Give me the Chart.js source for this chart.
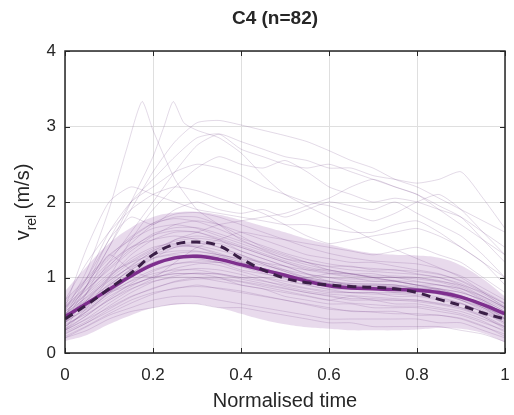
<!DOCTYPE html>
<html lang="en">
<head>
<meta charset="UTF-8">
<title>C4 (n=82)</title>
<script src="https://cdn.jsdelivr.net/npm/chart.js"></script>
<style>
  html, body { margin: 0; padding: 0; background: #fff; }
  #wrap { width: 514px; height: 415px; }
</style>
</head>
<body>
<div id="wrap"><canvas id="chart" width="514" height="415"></canvas></div>
<script>
// normalised time grid shared by the mean / median / band / most traces
const timeGrid = [0, 0.05, 0.1, 0.15, 0.2, 0.25, 0.3, 0.35, 0.4, 0.45, 0.5,
                  0.55, 0.6, 0.65, 0.7, 0.75, 0.8, 0.85, 0.9, 0.95, 1];

// group mean (solid) and median (dashed), m/s
const meanSpeed   = [0.48, 0.66, 0.84, 1.02, 1.17, 1.26, 1.28, 1.24, 1.17, 1.10, 1.03,
                     0.95, 0.89, 0.86, 0.85, 0.84, 0.83, 0.80, 0.74, 0.64, 0.52];
const medianSpeed = [0.45, 0.64, 0.85, 1.06, 1.30, 1.44, 1.47, 1.42, 1.25, 1.10, 0.99,
                     0.93, 0.90, 0.88, 0.87, 0.85, 0.80, 0.71, 0.63, 0.53, 0.45];

// shaded band (mean +/- SD)
const bandUpper = [0.82, 1.15, 1.45, 1.66, 1.80, 1.86, 1.87, 1.83, 1.76, 1.68, 1.60,
                   1.51, 1.44, 1.37, 1.32, 1.30, 1.29, 1.26, 1.16, 0.98, 0.75];
const bandLower = [0.16, 0.24, 0.38, 0.50, 0.60, 0.64, 0.65, 0.60, 0.52, 0.44, 0.38,
                   0.34, 0.32, 0.30, 0.30, 0.30, 0.31, 0.33, 0.32, 0.26, 0.14];

// tick labels on the axes
const xTickLabels = ['0', '0.2', '0.4', '0.6', '0.8', '1'];
const yTickLabels = ['0', '1', '2', '3', '4'];

// individual trials (a readable subset), sampled on timeGrid
const traces = [
  [0.50, 0.90, 1.40, 1.90, 2.40, 2.80, 3.05, 3.08, 3.02, 2.95, 2.88, 2.80, 2.68, 2.55, 2.45, 2.30, 2.20, 2.05, 1.90, 1.75, 1.60],
  [0.40, 0.80, 1.20, 1.60, 2.00, 2.40, 2.75, 2.90, 2.80, 2.70, 2.60, 2.55, 2.45, 2.45, 2.35, 2.30, 2.25, 2.30, 2.40, 2.05, 1.65],
  [0.60, 1.00, 1.50, 2.00, 2.30, 2.60, 2.85, 2.90, 2.70, 2.60, 2.50, 2.45, 2.50, 2.40, 2.30, 2.20, 2.10, 1.90, 1.70, 1.50, 1.30],
  [0.30, 0.60, 1.00, 1.50, 1.90, 2.20, 2.45, 2.60, 2.50, 2.45, 2.55, 2.40, 2.20, 2.10, 2.00, 2.05, 2.00, 1.90, 1.80, 1.60, 1.40],
  [0.60, 1.40, 2.00, 2.20, 2.10, 2.00, 1.90, 1.85, 1.80, 1.75, 1.70, 1.70, 1.65, 1.60, 1.60, 1.70, 1.75, 1.60, 1.40, 1.20, 1.00],
  [0.40, 0.90, 1.50, 1.80, 1.70, 1.90, 2.00, 1.90, 1.85, 1.90, 1.80, 1.90, 2.00, 1.95, 1.90, 2.00, 1.85, 1.70, 1.55, 1.30, 1.00],
  [0.50, 0.70, 0.90, 1.10, 1.30, 1.50, 1.60, 1.70, 1.75, 1.80, 1.85, 1.95, 2.05, 2.20, 2.30, 2.20, 2.10, 1.95, 1.80, 1.50, 1.20],
  [0.70, 1.20, 1.60, 1.90, 2.10, 2.20, 2.15, 2.05, 1.95, 1.85, 1.70, 1.55, 1.45, 1.50, 1.55, 1.60, 1.65, 1.55, 1.40, 1.20, 0.90],
  [0.30, 0.80, 1.30, 1.10, 1.00, 1.20, 1.40, 1.50, 1.60, 1.55, 1.50, 1.45, 1.40, 1.35, 1.30, 1.35, 1.40, 1.30, 1.20, 1.00, 0.80],
  [0.50, 1.00, 1.60, 2.00, 2.20, 2.40, 2.50, 2.45, 2.35, 2.20, 2.10, 2.00, 1.95, 1.85, 1.75, 1.85, 2.00, 2.10, 1.90, 1.60, 1.30],
  [0.45, 0.70, 0.95, 1.15, 1.35, 1.50, 1.55, 1.50, 1.40, 1.30, 1.20, 1.10, 1.05, 1.00, 0.95, 0.95, 0.90, 0.85, 0.80, 0.70, 0.55],
  [0.30, 0.45, 0.60, 0.75, 0.85, 0.95, 1.00, 1.00, 0.95, 0.90, 0.85, 0.80, 0.75, 0.70, 0.70, 0.65, 0.65, 0.60, 0.55, 0.45, 0.35],
  [0.60, 0.85, 1.10, 1.35, 1.55, 1.70, 1.75, 1.70, 1.60, 1.50, 1.40, 1.30, 1.25, 1.20, 1.20, 1.15, 1.10, 1.05, 0.95, 0.80, 0.65],
  [0.20, 0.35, 0.50, 0.60, 0.70, 0.75, 0.75, 0.70, 0.65, 0.60, 0.55, 0.50, 0.45, 0.45, 0.45, 0.45, 0.45, 0.40, 0.40, 0.30, 0.20],
  [0.50, 0.75, 1.00, 1.25, 1.40, 1.45, 1.40, 1.30, 1.20, 1.10, 1.00, 0.95, 0.90, 0.85, 0.85, 0.80, 0.80, 0.80, 0.75, 0.65, 0.50],
  [0.40, 0.60, 0.80, 0.95, 1.05, 1.10, 1.10, 1.05, 1.00, 0.95, 0.90, 0.85, 0.80, 0.80, 0.80, 0.75, 0.75, 0.70, 0.65, 0.55, 0.45],
  [0.70, 1.00, 1.30, 1.50, 1.65, 1.70, 1.65, 1.55, 1.45, 1.35, 1.25, 1.20, 1.15, 1.15, 1.10, 1.10, 1.05, 1.00, 0.90, 0.75, 0.60],
  [0.25, 0.40, 0.55, 0.70, 0.80, 0.85, 0.90, 0.85, 0.80, 0.75, 0.70, 0.65, 0.60, 0.55, 0.55, 0.55, 0.50, 0.50, 0.45, 0.35, 0.25],
  [0.55, 0.80, 1.05, 1.20, 1.30, 1.35, 1.35, 1.30, 1.25, 1.20, 1.10, 1.00, 0.95, 0.90, 0.90, 0.90, 0.85, 0.85, 0.80, 0.70, 0.55],
  [0.35, 0.55, 0.75, 0.90, 1.00, 1.05, 1.05, 1.00, 0.90, 0.85, 0.75, 0.70, 0.65, 0.65, 0.60, 0.60, 0.60, 0.55, 0.50, 0.40, 0.30],
  [0.45, 0.65, 0.90, 1.10, 1.25, 1.30, 1.25, 1.20, 1.10, 1.05, 1.00, 1.00, 1.05, 1.05, 1.00, 0.95, 0.90, 0.85, 0.75, 0.60, 0.45],
  [0.50, 0.80, 1.15, 1.45, 1.70, 1.80, 1.80, 1.70, 1.55, 1.40, 1.30, 1.20, 1.10, 1.05, 1.00, 1.00, 0.95, 0.90, 0.85, 0.75, 0.60],
  [0.20, 0.30, 0.45, 0.55, 0.60, 0.65, 0.65, 0.60, 0.60, 0.55, 0.50, 0.45, 0.40, 0.40, 0.35, 0.35, 0.35, 0.35, 0.30, 0.25, 0.15],
  [0.60, 0.90, 1.20, 1.40, 1.50, 1.55, 1.50, 1.40, 1.30, 1.20, 1.15, 1.10, 1.10, 1.05, 1.05, 1.00, 1.00, 0.95, 0.90, 0.80, 0.65],
  [0.30, 0.50, 0.70, 0.85, 0.95, 1.00, 1.00, 0.95, 0.90, 0.85, 0.80, 0.75, 0.70, 0.75, 0.70, 0.70, 0.70, 0.65, 0.60, 0.50, 0.35],
  [0.40, 0.70, 1.00, 1.30, 1.50, 1.60, 1.60, 1.50, 1.35, 1.25, 1.15, 1.05, 1.00, 0.95, 0.95, 0.95, 0.90, 0.90, 0.85, 0.70, 0.50],
  [0.50, 0.65, 0.80, 0.90, 1.00, 1.05, 1.05, 1.05, 1.00, 1.00, 0.95, 0.90, 0.85, 0.85, 0.90, 0.90, 0.85, 0.80, 0.70, 0.60, 0.50],
  [0.35, 0.55, 0.80, 1.05, 1.25, 1.40, 1.45, 1.45, 1.35, 1.25, 1.15, 1.05, 0.95, 0.90, 0.85, 0.85, 0.85, 0.80, 0.75, 0.65, 0.45],
  [0.40, 0.62, 0.88, 1.12, 1.30, 1.40, 1.42, 1.36, 1.28, 1.18, 1.08, 1.00, 0.95, 0.92, 0.90, 0.88, 0.86, 0.82, 0.76, 0.64, 0.48],
  [0.28, 0.42, 0.62, 0.80, 0.94, 1.02, 1.06, 1.04, 0.98, 0.92, 0.86, 0.80, 0.76, 0.72, 0.72, 0.70, 0.68, 0.64, 0.58, 0.48, 0.32],
  [0.65, 0.95, 1.25, 1.52, 1.72, 1.84, 1.86, 1.80, 1.70, 1.60, 1.50, 1.40, 1.32, 1.26, 1.22, 1.20, 1.18, 1.12, 1.02, 0.86, 0.70],
  [0.38, 0.52, 0.70, 0.88, 1.02, 1.12, 1.18, 1.20, 1.18, 1.12, 1.05, 0.98, 0.92, 0.88, 0.86, 0.86, 0.84, 0.80, 0.72, 0.60, 0.42],
  [0.55, 0.78, 1.02, 1.22, 1.38, 1.48, 1.52, 1.48, 1.40, 1.30, 1.20, 1.12, 1.06, 1.02, 1.00, 1.00, 0.98, 0.94, 0.86, 0.72, 0.58],
  [0.22, 0.36, 0.52, 0.66, 0.78, 0.86, 0.88, 0.86, 0.82, 0.76, 0.70, 0.64, 0.58, 0.56, 0.54, 0.52, 0.52, 0.50, 0.46, 0.36, 0.22],
  [0.48, 0.72, 0.98, 1.20, 1.36, 1.44, 1.46, 1.40, 1.30, 1.18, 1.08, 0.98, 0.92, 0.88, 0.86, 0.84, 0.82, 0.78, 0.70, 0.58, 0.44],
  [0.32, 0.50, 0.72, 0.92, 1.08, 1.18, 1.22, 1.20, 1.14, 1.06, 0.98, 0.90, 0.84, 0.80, 0.78, 0.78, 0.76, 0.72, 0.66, 0.54, 0.38],
  [0.58, 0.84, 1.12, 1.38, 1.58, 1.66, 1.66, 1.58, 1.48, 1.38, 1.28, 1.20, 1.14, 1.10, 1.08, 1.06, 1.04, 1.00, 0.92, 0.78, 0.62],
  [0.42, 0.58, 0.78, 0.96, 1.10, 1.18, 1.20, 1.16, 1.08, 1.00, 0.92, 0.86, 0.82, 0.80, 0.80, 0.80, 0.78, 0.74, 0.66, 0.54, 0.40],
  [0.26, 0.40, 0.58, 0.74, 0.86, 0.94, 0.98, 0.98, 0.94, 0.88, 0.82, 0.76, 0.70, 0.66, 0.64, 0.62, 0.62, 0.58, 0.52, 0.42, 0.28],
  [0.62, 0.88, 1.16, 1.40, 1.56, 1.62, 1.60, 1.52, 1.42, 1.32, 1.22, 1.14, 1.08, 1.04, 1.02, 1.02, 1.00, 0.96, 0.88, 0.74, 0.60],
  [0.45, 0.66, 0.92, 1.16, 1.34, 1.42, 1.40, 1.32, 1.22, 1.12, 1.04, 0.98, 0.94, 0.92, 0.92, 0.90, 0.88, 0.84, 0.76, 0.62, 0.46],
  [0.36, 0.56, 0.80, 1.00, 1.16, 1.26, 1.30, 1.28, 1.20, 1.12, 1.04, 0.96, 0.90, 0.86, 0.84, 0.84, 0.82, 0.78, 0.70, 0.56, 0.40],
  [0.52, 0.74, 0.96, 1.14, 1.26, 1.32, 1.34, 1.30, 1.24, 1.16, 1.10, 1.04, 1.00, 0.98, 0.98, 0.96, 0.94, 0.90, 0.82, 0.68, 0.52],
  [0.30, 0.46, 0.66, 0.84, 0.98, 1.08, 1.12, 1.10, 1.04, 0.96, 0.88, 0.82, 0.78, 0.76, 0.74, 0.72, 0.70, 0.66, 0.60, 0.48, 0.34],
  [0.68, 0.98, 1.28, 1.54, 1.72, 1.78, 1.74, 1.64, 1.52, 1.42, 1.32, 1.24, 1.18, 1.14, 1.12, 1.10, 1.08, 1.04, 0.96, 0.82, 0.66],
  [0.46, 0.64, 0.86, 1.06, 1.20, 1.28, 1.30, 1.26, 1.18, 1.10, 1.02, 0.96, 0.92, 0.90, 0.88, 0.88, 0.86, 0.82, 0.74, 0.62, 0.46]
];

// two trials with a sharp early peak, on their own time samples
const spikeTimesA = [0, 0.05, 0.1, 0.14, 0.175, 0.2, 0.25, 0.3, 0.35, 0.4, 0.5, 0.6, 0.7, 0.8, 0.9, 1];
const spikeSpeedA = [0.55, 1.10, 1.90, 2.70, 3.33, 2.95, 2.30, 1.90, 1.70, 1.50, 1.25, 1.10, 1.00, 0.90, 0.75, 0.50];
const spikeTimesB = [0, 0.05, 0.1, 0.15, 0.2, 0.225, 0.246, 0.27, 0.3, 0.35, 0.4, 0.45, 0.5, 0.6, 0.7, 0.8, 0.9, 1];
const spikeSpeedB = [0.50, 0.90, 1.40, 2.00, 2.60, 3.00, 3.33, 3.05, 2.95, 2.85, 2.65, 2.35, 2.10, 1.80, 1.50, 1.25, 1.00, 0.60];

const FONT = "'Liberation Sans', Arial, Helvetica, sans-serif";
const TXT = '#262626';
const PURPLE = 'rgb(126,47,142)';

function toPoints(xs, ys) {
  return xs.map((x, i) => ({ x: x, y: ys[i] }));
}

function traceSet(data) {
  return { data: data, borderColor: 'rgba(115,70,135,0.2)', borderWidth: 1,
           pointRadius: 0, tension: 0.2, fill: false, order: 3 };
}

const datasets = [
  { label: 'median', data: toPoints(timeGrid, medianSpeed), borderColor: '#3b1f47',
    borderWidth: 3, borderDash: [9, 6], pointRadius: 0, tension: 0.4, fill: false, order: 0 },
  { label: 'mean', data: toPoints(timeGrid, meanSpeed), borderColor: PURPLE,
    borderWidth: 3.5, pointRadius: 0, tension: 0.4, fill: false, order: 1 },
  { label: 'upper', data: toPoints(timeGrid, bandUpper), borderColor: 'transparent',
    backgroundColor: 'rgba(140,70,160,0.2)', pointRadius: 0, tension: 0.4, fill: '+1', order: 2 },
  { label: 'lower', data: toPoints(timeGrid, bandLower), borderColor: 'transparent',
    pointRadius: 0, tension: 0.4, fill: false, order: 2 }
];
traces.forEach(tr => datasets.push(traceSet(toPoints(timeGrid, tr))));
datasets.push(traceSet(toPoints(spikeTimesA, spikeSpeedA)));
datasets.push(traceSet(toPoints(spikeTimesB, spikeSpeedB)));

// box round the axes with inward ticks, plus title and y label (with subscript)
const decor = {
  id: 'decor',
  afterDatasetsDraw(chart) {
    const { ctx, chartArea: a, scales: { x, y } } = chart;
    ctx.save();
    ctx.strokeStyle = TXT;
    ctx.lineWidth = 1;
    ctx.beginPath();
    x.ticks.forEach(t => {
      const px = Math.round(x.getPixelForValue(t.value)) + 0.5;
      ctx.moveTo(px, a.bottom); ctx.lineTo(px, a.bottom - 5);
      ctx.moveTo(px, a.top); ctx.lineTo(px, a.top + 5);
    });
    y.ticks.forEach(t => {
      const py = Math.round(y.getPixelForValue(t.value)) + 0.5;
      ctx.moveTo(a.left, py); ctx.lineTo(a.left + 5, py);
      ctx.moveTo(a.right, py); ctx.lineTo(a.right - 5, py);
    });
    ctx.stroke();
    ctx.lineWidth = 1.5;
    ctx.strokeRect(a.left, a.top, a.right - a.left, a.bottom - a.top);
    ctx.restore();
  },
  afterDraw(chart) {
    const { ctx, chartArea: a } = chart;
    ctx.save();
    ctx.fillStyle = TXT;
    ctx.textAlign = 'center';
    ctx.textBaseline = 'alphabetic';
    ctx.font = 'bold 19px ' + FONT;
    ctx.fillText('C4 (n=82)', 275, 24);

    // y axis label: v_rel (m/s)
    const main = '20px ' + FONT, sub = '14px ' + FONT;
    ctx.font = main; const wV = ctx.measureText('v').width;
    const wRest = ctx.measureText(' (m/s)').width;
    ctx.font = sub; const wSub = ctx.measureText('rel').width;
    const total = wV + wSub + wRest;
    ctx.translate(29, (a.top + a.bottom) / 2);
    ctx.rotate(-Math.PI / 2);
    ctx.textAlign = 'left';
    let cx = -total / 2;
    ctx.font = main; ctx.fillText('v', cx, 0); cx += wV;
    ctx.font = sub; ctx.fillText('rel', cx, 7); cx += wSub;
    ctx.font = main; ctx.fillText(' (m/s)', cx, 0);
    ctx.restore();
  }
};

new Chart(document.getElementById('chart'), {
  type: 'line',
  data: { datasets: datasets },
  options: {
    responsive: false,
    animation: false,
    layout: { padding: { top: 51, right: 9, left: 0, bottom: 0 } },
    plugins: { legend: { display: false }, tooltip: { enabled: false }, title: { display: false } },
    scales: {
      x: {
        type: 'linear', min: 0, max: 1,
        afterFit: s => { s.height = 62; s.paddingLeft = 0; s.paddingRight = 0; },
        ticks: { stepSize: 0.2, color: TXT, font: { family: FONT, size: 17 }, padding: 12, maxRotation: 0,
                 callback: (v, i) => xTickLabels[i] },
        grid: { color: '#dfdfdf', drawTicks: false },
        border: { display: false },
        title: { display: true, text: 'Normalised time', color: TXT,
                 font: { family: FONT, size: 20 }, padding: { top: 0, bottom: 2 } }
      },
      y: {
        min: 0, max: 4,
        afterFit: s => { s.width = 65; s.paddingTop = 0; s.paddingBottom = 0; },
        ticks: { stepSize: 1, color: TXT, font: { family: FONT, size: 17 }, padding: 9,
                 callback: (v, i) => yTickLabels[i] },
        grid: { color: '#dfdfdf', drawTicks: false },
        border: { display: false }
      }
    }
  },
  plugins: [decor]
});
</script>
</body>
</html>
